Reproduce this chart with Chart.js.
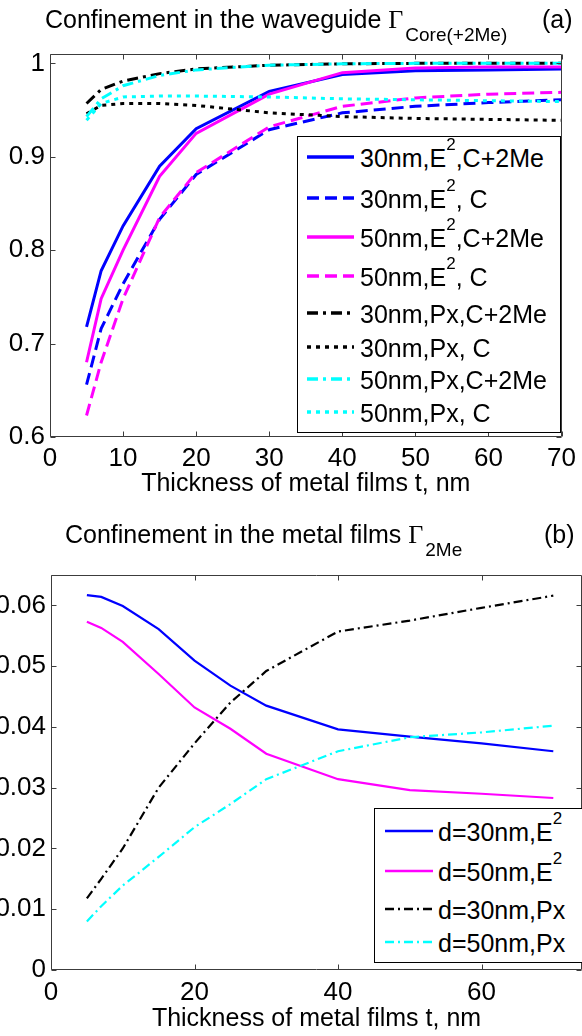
<!DOCTYPE html>
<html>
<head>
<meta charset="utf-8">
<script src="https://cdn.jsdelivr.net/npm/chart.js@4.4.1/dist/chart.umd.min.js"></script>
<style>
html,body{margin:0;padding:0;background:#fff;width:582px;height:1036px;overflow:hidden;font-family:"Liberation Sans",Arial,sans-serif;color:#000;}
canvas{position:absolute;left:0;}
#ca{top:0;}
#cb{top:520px;}
.title{position:absolute;white-space:nowrap;font-size:25px;line-height:25px;}
.gam{font-family:"Liberation Serif","Times New Roman",serif;font-size:26px;}
.sub{font-size:19px;position:relative;top:13px;margin-left:2px;}
.legend{position:absolute;border:1px solid #000;background:#fff;box-sizing:border-box;z-index:2;}
.row{position:absolute;left:0;height:30px;white-space:nowrap;}
.row svg{position:absolute;top:10px;}
.row span{position:absolute;top:2px;font-size:25px;line-height:28px;}
.row sup{font-size:17px;line-height:17px;position:relative;top:-8px;vertical-align:top;}
</style>
</head>
<body>
<canvas id="ca" width="582" height="520"></canvas>
<canvas id="cb" width="582" height="516"></canvas>

<div class="title" style="left:45px;top:7px;">Confinement in the waveguide <span class="gam">Γ</span><span class="sub">Core(+2Me)</span></div>
<div class="title" style="left:542px;top:7px;">(a)</div>
<div class="title" style="left:65px;top:522px;">Confinement in the metal films <span class="gam">Γ</span><span class="sub">2Me</span></div>
<div class="title" style="left:544px;top:522px;">(b)</div>

<div id="legA" class="legend" style="left:297px;top:136px;width:264px;height:297px;"></div>
<div id="legB" class="legend" style="left:374px;top:808px;width:210px;height:155px;"></div>

<script>
// ---------- DATA (a): confinement in the waveguide ----------
const thicknessA = [5, 7, 10, 15, 20, 30, 40, 50, 60, 70];
const e2_30nm_core2Me = [0.718, 0.778, 0.826, 0.890, 0.930, 0.970, 0.988, 0.992, 0.993, 0.994];
const e2_30nm_core    = [0.656, 0.716, 0.764, 0.833, 0.881, 0.929, 0.947, 0.954, 0.958, 0.961];
const e2_50nm_core2Me = [0.680, 0.748, 0.800, 0.879, 0.925, 0.967, 0.990, 0.995, 0.996, 0.996];
const e2_50nm_core    = [0.623, 0.680, 0.748, 0.835, 0.883, 0.932, 0.954, 0.963, 0.967, 0.969];
const px_30nm_core2Me = [0.957, 0.972, 0.981, 0.989, 0.994, 0.998, 0.9995, 1.000, 1.000, 1.000];
const px_30nm_core    = [0.946, 0.955, 0.957, 0.957, 0.955, 0.947, 0.943, 0.941, 0.940, 0.939];
const px_50nm_core2Me = [0.943, 0.962, 0.976, 0.987, 0.993, 0.998, 0.9995, 1.000, 1.000, 1.000];
const px_50nm_core    = [0.939, 0.957, 0.964, 0.965, 0.965, 0.964, 0.962, 0.961, 0.960, 0.959];
const namesA = ['30nm,E^2,C+2Me', '30nm,E^2, C', '50nm,E^2,C+2Me', '50nm,E^2, C',
                '30nm,Px,C+2Me', '30nm,Px, C', '50nm,Px,C+2Me', '50nm,Px, C'];
const yTicksA = [0.6, 0.7, 0.8, 0.9, 1];
const xTicksA = [0, 10, 20, 30, 40, 50, 60, 70];

// ---------- DATA (b): confinement in the metal films ----------
const thicknessB = [5, 7, 10, 15, 20, 25, 30, 40, 50, 60, 70];
const me_30nm_E2 = [0.0617, 0.0614, 0.0599, 0.0561, 0.0509, 0.0468, 0.0435, 0.0396, 0.0384, 0.0373, 0.0360];
const me_50nm_E2 = [0.0573, 0.0563, 0.0540, 0.0487, 0.0432, 0.0397, 0.0356, 0.0314, 0.0296, 0.0290, 0.0283];
const me_30nm_Px = [0.0118, 0.0150, 0.0200, 0.0300, 0.0373, 0.0440, 0.0492, 0.0557, 0.0575, 0.0596, 0.0616];
const me_50nm_Px = [0.0080, 0.0105, 0.0139, 0.0186, 0.0235, 0.0273, 0.0314, 0.0360, 0.0383, 0.0391, 0.0402];
const namesB = ['d=30nm,E^2', 'd=50nm,E^2', 'd=30nm,Px', 'd=50nm,Px'];
const yTicksB = [0, 0.01, 0.02, 0.03, 0.04, 0.05, 0.06];
const xTicksB = [0, 20, 40, 60];

// ---------- STYLES ----------
const BLUE = '#0000ff', MAG = '#ff00ff', BLK = '#000000', CYAN = '#00ffff';
const SOLID = [], DASH = [12, 6], DOT = [4, 5], DASHDOT = [11, 5, 3, 5], DASHDOT_B = [9, 4, 2, 4];
const stylesA = [
  {c: BLUE, d: SOLID}, {c: BLUE, d: DASH}, {c: MAG, d: SOLID}, {c: MAG, d: DASH},
  {c: BLK, d: DASHDOT}, {c: BLK, d: DOT}, {c: CYAN, d: DASHDOT}, {c: CYAN, d: DOT}
];
const stylesB = [{c: BLUE, d: SOLID}, {c: MAG, d: SOLID}, {c: BLK, d: DASHDOT_B}, {c: CYAN, d: DASHDOT_B}];

const seriesA = [e2_30nm_core2Me, e2_30nm_core, e2_50nm_core2Me, e2_50nm_core,
                 px_30nm_core2Me, px_30nm_core, px_50nm_core2Me, px_50nm_core];
const seriesB = [me_30nm_E2, me_50nm_E2, me_30nm_Px, me_50nm_Px];

const FONT = {family: '"Liberation Sans", Arial, sans-serif', size: 25, lineHeight: 1.2};
const TICKFONT = {family: '"Liberation Sans", Arial, sans-serif', size: 26, lineHeight: 1.2};

function fmt(v) { return String(Math.round(v * 1000) / 1000); }

const framePlugin = {
  id: 'frame',
  afterDatasetsDraw(chart) {
    const {ctx, chartArea: a, scales: {x, y}} = chart;
    const L = 5;
    ctx.save();
    ctx.strokeStyle = '#3c3c3c';
    ctx.lineWidth = 1;
    ctx.setLineDash([]);
    ctx.beginPath();
    const l = Math.round(a.left) + 0.5, r = Math.round(a.right) - 0.5,
          t = Math.round(a.top) + 0.5, b = Math.round(a.bottom) - 0.5;
    ctx.rect(l, t, r - l, b - t);
    x.ticks.forEach(tk => {
      const p = Math.round(x.getPixelForValue(tk.value)) + 0.5;
      ctx.moveTo(p, b); ctx.lineTo(p, b - L);
      ctx.moveTo(p, t); ctx.lineTo(p, t + L);
    });
    y.ticks.forEach(tk => {
      const p = Math.round(y.getPixelForValue(tk.value)) + 0.5;
      ctx.moveTo(l, p); ctx.lineTo(l + L, p);
      ctx.moveTo(r, p); ctx.lineTo(r - L, p);
    });
    ctx.stroke();
    ctx.restore();
  }
};

function makeChart(id, xs, series, styles, width, cfg) {
  const datasets = series.map((arr, i) => ({
    data: xs.map((xv, j) => ({x: xv, y: arr[j]})),
    borderColor: styles[i].c,
    borderDash: styles[i].d,
    borderWidth: width,
    pointRadius: 0,
    tension: 0,
    fill: false,
    borderCapStyle: 'butt'
  })).reverse();
  return new Chart(document.getElementById(id), {
    type: 'line',
    data: {datasets},
    options: {
      responsive: false, animation: false, devicePixelRatio: 1,
      layout: {padding: cfg.pad},
      plugins: {legend: {display: false}, tooltip: {enabled: false}},
      scales: {
        x: {
          type: 'linear', min: cfg.xmin, max: cfg.xmax,
          afterBuildTicks: s => { s.ticks = cfg.xTicks.map(v => ({value: v})); },
          ticks: {font: TICKFONT, color: '#000', padding: cfg.xPad, maxRotation: 0, autoSkip: false, callback: fmt},
          grid: {display: false, drawTicks: false},
          border: {display: false},
          title: {display: true, text: 'Thickness of metal films t, nm', font: FONT, color: '#000',
                  padding: {top: 0, bottom: cfg.titlePad}},
          afterFit: s => { s.height = cfg.xH; }
        },
        y: {
          type: 'linear', min: cfg.ymin, max: cfg.ymax,
          afterBuildTicks: s => { s.ticks = cfg.yTicks.map(v => ({value: v})); },
          ticks: {font: TICKFONT, color: '#000', padding: 5, autoSkip: false, callback: fmt},
          grid: {display: false, drawTicks: false},
          border: {display: false},
          afterFit: s => { s.width = cfg.yW; }
        }
      }
    },
    plugins: [framePlugin]
  });
}

makeChart('ca', thicknessA, seriesA, stylesA, 3, {
  pad: {left: 0, right: 13, top: 54, bottom: 0},
  xmin: 0, xmax: 70, ymin: 0.6, ymax: 1.01, xTicks: xTicksA, yTicks: yTicksA,
  xPad: 6, titlePad: 21, xH: 83, yW: 50
});
makeChart('cb', thicknessB, seriesB, stylesB, 2.2, {
  pad: {left: 0, right: 0, top: 55, bottom: 0},
  xmin: 0, xmax: 74, ymin: 0, ymax: 0.065, xTicks: xTicksB, yTicks: yTicksB,
  xPad: 7, titlePad: 2, xH: 66, yW: 51
});

// ---------- legends (HTML, so superscripts stay real text) ----------
function buildLegend(elId, names, styles, rowCenters, lineX, lineW, textX, lw) {
  const box = document.getElementById(elId);
  names.forEach((name, i) => {
    const row = document.createElement('div');
    row.className = 'row';
    row.style.top = (rowCenters[i] - 15) + 'px';
    const svgNS = 'http://www.w3.org/2000/svg';
    const svg = document.createElementNS(svgNS, 'svg');
    svg.setAttribute('width', lineW); svg.setAttribute('height', 10);
    svg.style.left = lineX + 'px';
    svg.style.top = '10px';
    const ln = document.createElementNS(svgNS, 'line');
    ln.setAttribute('x1', 0); ln.setAttribute('x2', lineW);
    ln.setAttribute('y1', 5); ln.setAttribute('y2', 5);
    ln.setAttribute('stroke', styles[i].c);
    ln.setAttribute('stroke-width', lw);
    if (styles[i].d.length) ln.setAttribute('stroke-dasharray', styles[i].d.join(' '));
    svg.appendChild(ln);
    row.appendChild(svg);
    const sp = document.createElement('span');
    sp.style.left = textX + 'px';
    const parts = name.split('^2');
    parts.forEach((p, k) => {
      sp.appendChild(document.createTextNode(p));
      if (k < parts.length - 1) {
        const s = document.createElement('sup'); s.textContent = '2'; sp.appendChild(s);
      }
    });
    row.appendChild(sp);
    box.appendChild(row);
  });
}
buildLegend('legA', namesA, stylesA, [20, 61, 100, 139, 176, 210, 242, 275], 9, 47, 62, 3.5);
buildLegend('legB', namesB, stylesB, [22, 62, 100, 133], 10, 48, 63, 2.5);
</script>
</body>
</html>
